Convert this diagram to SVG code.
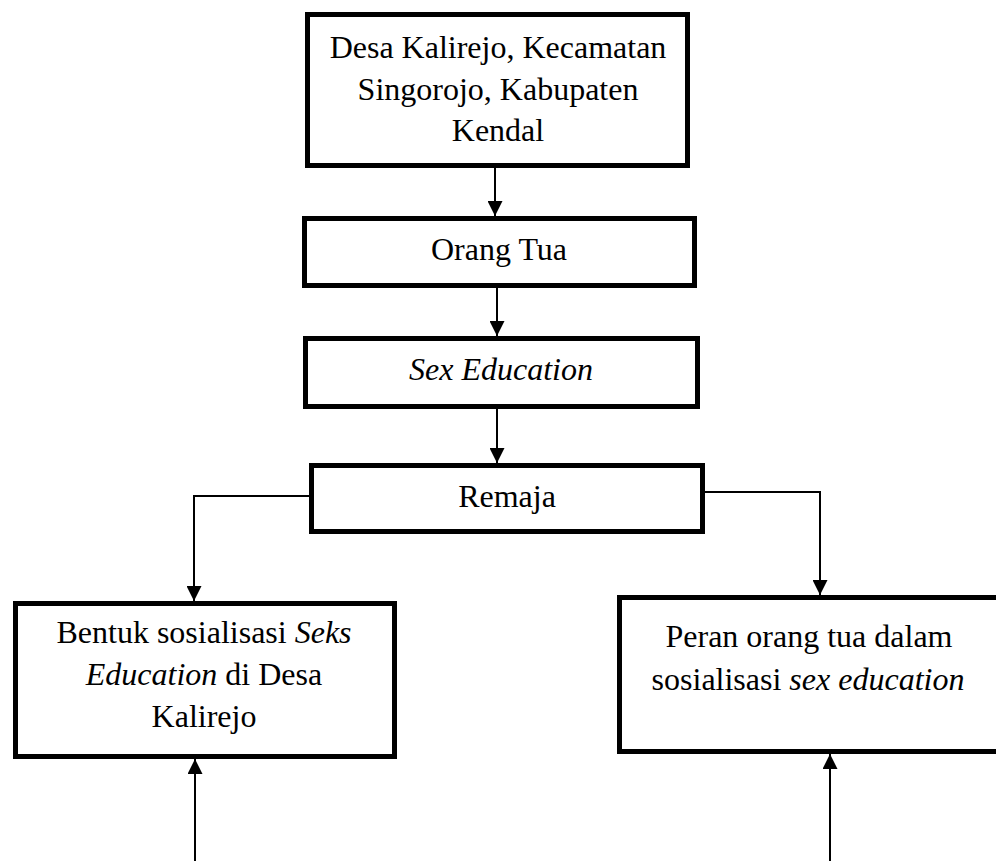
<svg xmlns="http://www.w3.org/2000/svg" width="996" height="861" viewBox="0 0 996 861">
  <style>
    .box { fill: #ffffff; stroke: #000000; stroke-width: 5; }
    .lbl { font-family: "Liberation Serif", "Times New Roman", serif; font-size: 32px; fill: #000000; text-anchor: middle; }
    .it { font-style: italic; }
    .conn { fill: none; stroke: #000000; stroke-width: 2; }
  </style>
  <defs>
    <marker id="arrow" markerUnits="userSpaceOnUse" markerWidth="15" markerHeight="15" refX="15" refY="7.5" orient="auto">
      <path d="M0,0 L15,7.5 L0,15 z" fill="#000000"/>
    </marker>
  </defs>
  <rect width="996" height="861" fill="#ffffff"/>

  <g id="connectors">
    <path class="conn" d="M495,168 L495,216" marker-end="url(#arrow)"/>
    <path class="conn" d="M497,288 L497,336" marker-end="url(#arrow)"/>
    <path class="conn" d="M497,409 L497,463" marker-end="url(#arrow)"/>
    <path class="conn" d="M310,496 L194,496 L194,601" marker-end="url(#arrow)"/>
    <path class="conn" d="M704,492 L820,492 L820,595" marker-end="url(#arrow)"/>
    <path class="conn" d="M195,861 L195,759" marker-end="url(#arrow)"/>
    <path class="conn" d="M830,861 L830,754" marker-end="url(#arrow)"/>
  </g>

  <g id="node-desa">
    <rect class="box" x="307.5" y="14.5" width="380" height="151"/>
    <text class="lbl" x="498" y="58">Desa Kalirejo, Kecamatan</text>
    <text class="lbl" x="498" y="100">Singorojo, Kabupaten</text>
    <text class="lbl" x="498" y="141">Kendal</text>
  </g>

  <g id="node-orangtua">
    <rect class="box" x="304.5" y="218.5" width="390" height="67"/>
    <text class="lbl" x="499" y="260">Orang Tua</text>
  </g>

  <g id="node-sexedu">
    <rect class="box" x="305.5" y="338.5" width="392" height="68"/>
    <text class="lbl it" x="501" y="380">Sex Education</text>
  </g>

  <g id="node-remaja">
    <rect class="box" x="311.5" y="465.5" width="391" height="66"/>
    <text class="lbl" x="507" y="507">Remaja</text>
  </g>

  <g id="node-bentuk">
    <rect class="box" x="15.5" y="603.5" width="379" height="153"/>
    <text class="lbl" x="204" y="643">Bentuk sosialisasi <tspan class="it">Seks</tspan></text>
    <text class="lbl" x="204" y="685"><tspan class="it">Education</tspan> di Desa</text>
    <text class="lbl" x="204" y="727">Kalirejo</text>
  </g>

  <g id="node-peran">
    <rect class="box" x="619.5" y="597.5" width="400" height="154"/>
    <text class="lbl" x="809" y="647">Peran orang tua dalam</text>
    <text class="lbl" x="808" y="690">sosialisasi <tspan class="it">sex education</tspan></text>
  </g>
</svg>
